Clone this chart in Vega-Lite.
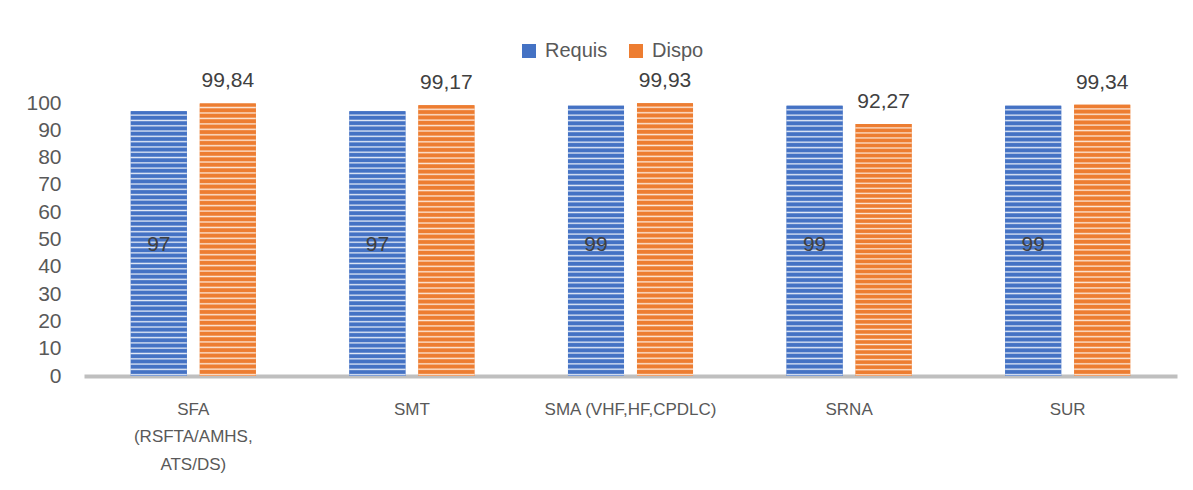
{
  "$schema": "https://vega.github.io/schema/vega-lite/v6.json",
  "width": 1093,
  "height": 273,
  "autosize": {"type": "none"},
  "padding": {"left": 84, "top": 103, "right": 16, "bottom": 114},
  "background": "white",
  "config": {
    "view": {"stroke": null},
    "font": "Liberation Sans",
    "locale": {"number": {"decimal": ",", "thousands": " ", "grouping": [3], "currency": ["", ""]}}
  },
  "data": {
    "values": [
      {"cat": "SFA|(RSFTA/AMHS,|ATS/DS)", "serie": "Requis", "val": 97},
      {"cat": "SFA|(RSFTA/AMHS,|ATS/DS)", "serie": "Dispo", "val": 99.84},
      {"cat": "SMT", "serie": "Requis", "val": 97},
      {"cat": "SMT", "serie": "Dispo", "val": 99.17},
      {"cat": "SMA (VHF,HF,CPDLC)", "serie": "Requis", "val": 99},
      {"cat": "SMA (VHF,HF,CPDLC)", "serie": "Dispo", "val": 99.93},
      {"cat": "SRNA", "serie": "Requis", "val": 99},
      {"cat": "SRNA", "serie": "Dispo", "val": 92.27},
      {"cat": "SUR", "serie": "Requis", "val": 99},
      {"cat": "SUR", "serie": "Dispo", "val": 99.34}
    ]
  },
  "encoding": {
    "x": {
      "field": "cat",
      "type": "nominal",
      "sort": null,
      "scale": {"paddingInner": 0.428, "paddingOuter": 0.214},
      "axis": {
        "title": null,
        "labelExpr": "split(datum.value, '|')",
        "labelAngle": 0,
        "labelFontSize": 17,
        "labelColor": "#595959",
        "labelLineHeight": 27.5,
        "labelPadding": 25,
        "labelBaseline": "top",
        "ticks": false,
        "domainColor": "#bfbfbf",
        "domainWidth": 4
      }
    },
    "xOffset": {"field": "serie", "type": "nominal", "sort": ["Requis", "Dispo"], "scale": {"paddingInner": 0.188}},
    "y": {
      "field": "val",
      "type": "quantitative",
      "scale": {"domain": [0, 100], "nice": false},
      "axis": {
        "title": null,
        "values": [0, 10, 20, 30, 40, 50, 60, 70, 80, 90, 100],
        "grid": false,
        "domain": false,
        "ticks": false,
        "labelFontSize": 21,
        "labelColor": "#595959",
        "labelPadding": 23
      }
    }
  },
  "layer": [
    {
      "mark": {"type": "bar"},
      "encoding": {
        "color": {
          "field": "serie",
          "type": "nominal",
          "sort": ["Requis", "Dispo"],
          "scale": {"domain": ["Requis", "Dispo"], "range": ["#4472C4", "#ED7D31"]},
          "legend": {
            "title": null,
            "orient": "none",
            "legendX": 435,
            "legendY": -62,
            "direction": "horizontal",
            "symbolType": "square",
            "symbolSize": 196,
            "symbolStrokeWidth": 0,
            "labelFontSize": 20,
            "labelColor": "#595959",
            "labelOffset": 6,
            "columnPadding": 18
          }
        }
      }
    },
    {
      "mark": {"type": "bar"},
      "encoding": {
        "color": {
          "condition": {
            "test": "datum.serie === 'Requis'",
            "value": {"gradient": "linear", "x1": 0, "y1": 0, "x2": 0, "y2": 1, "stops": [
                {"offset":0,"color":"#4472C4"},{"offset":0.01,"color":"#4472C4"},{"offset":0.015,"color":"#e2e9f6"},
                {"offset":0.02,"color":"#4472C4"},{"offset":0.03,"color":"#4472C4"},{"offset":0.035,"color":"#e2e9f6"},
                {"offset":0.04,"color":"#4472C4"},{"offset":0.05,"color":"#4472C4"},{"offset":0.055,"color":"#e2e9f6"},
                {"offset":0.06,"color":"#4472C4"},{"offset":0.07,"color":"#4472C4"},{"offset":0.075,"color":"#e2e9f6"},
                {"offset":0.08,"color":"#4472C4"},{"offset":0.09,"color":"#4472C4"},{"offset":0.095,"color":"#e2e9f6"},
                {"offset":0.1,"color":"#4472C4"},{"offset":0.11,"color":"#4472C4"},{"offset":0.115,"color":"#e2e9f6"},
                {"offset":0.12,"color":"#4472C4"},{"offset":0.13,"color":"#4472C4"},{"offset":0.135,"color":"#e2e9f6"},
                {"offset":0.14,"color":"#4472C4"},{"offset":0.15,"color":"#4472C4"},{"offset":0.155,"color":"#e2e9f6"},
                {"offset":0.16,"color":"#4472C4"},{"offset":0.17,"color":"#4472C4"},{"offset":0.175,"color":"#e2e9f6"},
                {"offset":0.18,"color":"#4472C4"},{"offset":0.19,"color":"#4472C4"},{"offset":0.195,"color":"#e2e9f6"},
                {"offset":0.2,"color":"#4472C4"},{"offset":0.21,"color":"#4472C4"},{"offset":0.215,"color":"#e2e9f6"},
                {"offset":0.22,"color":"#4472C4"},{"offset":0.23,"color":"#4472C4"},{"offset":0.235,"color":"#e2e9f6"},
                {"offset":0.24,"color":"#4472C4"},{"offset":0.25,"color":"#4472C4"},{"offset":0.255,"color":"#e2e9f6"},
                {"offset":0.26,"color":"#4472C4"},{"offset":0.27,"color":"#4472C4"},{"offset":0.275,"color":"#e2e9f6"},
                {"offset":0.28,"color":"#4472C4"},{"offset":0.29,"color":"#4472C4"},{"offset":0.295,"color":"#e2e9f6"},
                {"offset":0.3,"color":"#4472C4"},{"offset":0.31,"color":"#4472C4"},{"offset":0.315,"color":"#e2e9f6"},
                {"offset":0.32,"color":"#4472C4"},{"offset":0.33,"color":"#4472C4"},{"offset":0.335,"color":"#e2e9f6"},
                {"offset":0.34,"color":"#4472C4"},{"offset":0.35,"color":"#4472C4"},{"offset":0.355,"color":"#e2e9f6"},
                {"offset":0.36,"color":"#4472C4"},{"offset":0.37,"color":"#4472C4"},{"offset":0.375,"color":"#e2e9f6"},
                {"offset":0.38,"color":"#4472C4"},{"offset":0.39,"color":"#4472C4"},{"offset":0.395,"color":"#e2e9f6"},
                {"offset":0.4,"color":"#4472C4"},{"offset":0.41,"color":"#4472C4"},{"offset":0.415,"color":"#e2e9f6"},
                {"offset":0.42,"color":"#4472C4"},{"offset":0.43,"color":"#4472C4"},{"offset":0.435,"color":"#e2e9f6"},
                {"offset":0.44,"color":"#4472C4"},{"offset":0.45,"color":"#4472C4"},{"offset":0.455,"color":"#e2e9f6"},
                {"offset":0.46,"color":"#4472C4"},{"offset":0.47,"color":"#4472C4"},{"offset":0.475,"color":"#e2e9f6"},
                {"offset":0.48,"color":"#4472C4"},{"offset":0.49,"color":"#4472C4"},{"offset":0.495,"color":"#e2e9f6"},
                {"offset":0.5,"color":"#4472C4"},{"offset":0.51,"color":"#4472C4"},{"offset":0.515,"color":"#e2e9f6"},
                {"offset":0.52,"color":"#4472C4"},{"offset":0.53,"color":"#4472C4"},{"offset":0.535,"color":"#e2e9f6"},
                {"offset":0.54,"color":"#4472C4"},{"offset":0.55,"color":"#4472C4"},{"offset":0.555,"color":"#e2e9f6"},
                {"offset":0.56,"color":"#4472C4"},{"offset":0.57,"color":"#4472C4"},{"offset":0.575,"color":"#e2e9f6"},
                {"offset":0.58,"color":"#4472C4"},{"offset":0.59,"color":"#4472C4"},{"offset":0.595,"color":"#e2e9f6"},
                {"offset":0.6,"color":"#4472C4"},{"offset":0.61,"color":"#4472C4"},{"offset":0.615,"color":"#e2e9f6"},
                {"offset":0.62,"color":"#4472C4"},{"offset":0.63,"color":"#4472C4"},{"offset":0.635,"color":"#e2e9f6"},
                {"offset":0.64,"color":"#4472C4"},{"offset":0.65,"color":"#4472C4"},{"offset":0.655,"color":"#e2e9f6"},
                {"offset":0.66,"color":"#4472C4"},{"offset":0.67,"color":"#4472C4"},{"offset":0.675,"color":"#e2e9f6"},
                {"offset":0.68,"color":"#4472C4"},{"offset":0.69,"color":"#4472C4"},{"offset":0.695,"color":"#e2e9f6"},
                {"offset":0.7,"color":"#4472C4"},{"offset":0.71,"color":"#4472C4"},{"offset":0.715,"color":"#e2e9f6"},
                {"offset":0.72,"color":"#4472C4"},{"offset":0.73,"color":"#4472C4"},{"offset":0.735,"color":"#e2e9f6"},
                {"offset":0.74,"color":"#4472C4"},{"offset":0.75,"color":"#4472C4"},{"offset":0.755,"color":"#e2e9f6"},
                {"offset":0.76,"color":"#4472C4"},{"offset":0.77,"color":"#4472C4"},{"offset":0.775,"color":"#e2e9f6"},
                {"offset":0.78,"color":"#4472C4"},{"offset":0.79,"color":"#4472C4"},{"offset":0.795,"color":"#e2e9f6"},
                {"offset":0.8,"color":"#4472C4"},{"offset":0.81,"color":"#4472C4"},{"offset":0.815,"color":"#e2e9f6"},
                {"offset":0.82,"color":"#4472C4"},{"offset":0.83,"color":"#4472C4"},{"offset":0.835,"color":"#e2e9f6"},
                {"offset":0.84,"color":"#4472C4"},{"offset":0.85,"color":"#4472C4"},{"offset":0.855,"color":"#e2e9f6"},
                {"offset":0.86,"color":"#4472C4"},{"offset":0.87,"color":"#4472C4"},{"offset":0.875,"color":"#e2e9f6"},
                {"offset":0.88,"color":"#4472C4"},{"offset":0.89,"color":"#4472C4"},{"offset":0.895,"color":"#e2e9f6"},
                {"offset":0.9,"color":"#4472C4"},{"offset":0.91,"color":"#4472C4"},{"offset":0.915,"color":"#e2e9f6"},
                {"offset":0.92,"color":"#4472C4"},{"offset":0.93,"color":"#4472C4"},{"offset":0.935,"color":"#e2e9f6"},
                {"offset":0.94,"color":"#4472C4"},{"offset":0.95,"color":"#4472C4"},{"offset":0.955,"color":"#e2e9f6"},
                {"offset":0.96,"color":"#4472C4"},{"offset":0.97,"color":"#4472C4"},{"offset":0.975,"color":"#e2e9f6"},
                {"offset":0.98,"color":"#4472C4"},{"offset":0.99,"color":"#4472C4"},{"offset":0.995,"color":"#e2e9f6"},
                {"offset":1,"color":"#4472C4"}
              ]}
          },
          "value": {"gradient": "linear", "x1": 0, "y1": 0, "x2": 0, "y2": 1, "stops": [
                {"offset":0,"color":"#ED7D31"},{"offset":0.01,"color":"#ED7D31"},{"offset":0.015,"color":"#fce6d6"},
                {"offset":0.02,"color":"#ED7D31"},{"offset":0.03,"color":"#ED7D31"},{"offset":0.035,"color":"#fce6d6"},
                {"offset":0.04,"color":"#ED7D31"},{"offset":0.05,"color":"#ED7D31"},{"offset":0.055,"color":"#fce6d6"},
                {"offset":0.06,"color":"#ED7D31"},{"offset":0.07,"color":"#ED7D31"},{"offset":0.075,"color":"#fce6d6"},
                {"offset":0.08,"color":"#ED7D31"},{"offset":0.09,"color":"#ED7D31"},{"offset":0.095,"color":"#fce6d6"},
                {"offset":0.1,"color":"#ED7D31"},{"offset":0.11,"color":"#ED7D31"},{"offset":0.115,"color":"#fce6d6"},
                {"offset":0.12,"color":"#ED7D31"},{"offset":0.13,"color":"#ED7D31"},{"offset":0.135,"color":"#fce6d6"},
                {"offset":0.14,"color":"#ED7D31"},{"offset":0.15,"color":"#ED7D31"},{"offset":0.155,"color":"#fce6d6"},
                {"offset":0.16,"color":"#ED7D31"},{"offset":0.17,"color":"#ED7D31"},{"offset":0.175,"color":"#fce6d6"},
                {"offset":0.18,"color":"#ED7D31"},{"offset":0.19,"color":"#ED7D31"},{"offset":0.195,"color":"#fce6d6"},
                {"offset":0.2,"color":"#ED7D31"},{"offset":0.21,"color":"#ED7D31"},{"offset":0.215,"color":"#fce6d6"},
                {"offset":0.22,"color":"#ED7D31"},{"offset":0.23,"color":"#ED7D31"},{"offset":0.235,"color":"#fce6d6"},
                {"offset":0.24,"color":"#ED7D31"},{"offset":0.25,"color":"#ED7D31"},{"offset":0.255,"color":"#fce6d6"},
                {"offset":0.26,"color":"#ED7D31"},{"offset":0.27,"color":"#ED7D31"},{"offset":0.275,"color":"#fce6d6"},
                {"offset":0.28,"color":"#ED7D31"},{"offset":0.29,"color":"#ED7D31"},{"offset":0.295,"color":"#fce6d6"},
                {"offset":0.3,"color":"#ED7D31"},{"offset":0.31,"color":"#ED7D31"},{"offset":0.315,"color":"#fce6d6"},
                {"offset":0.32,"color":"#ED7D31"},{"offset":0.33,"color":"#ED7D31"},{"offset":0.335,"color":"#fce6d6"},
                {"offset":0.34,"color":"#ED7D31"},{"offset":0.35,"color":"#ED7D31"},{"offset":0.355,"color":"#fce6d6"},
                {"offset":0.36,"color":"#ED7D31"},{"offset":0.37,"color":"#ED7D31"},{"offset":0.375,"color":"#fce6d6"},
                {"offset":0.38,"color":"#ED7D31"},{"offset":0.39,"color":"#ED7D31"},{"offset":0.395,"color":"#fce6d6"},
                {"offset":0.4,"color":"#ED7D31"},{"offset":0.41,"color":"#ED7D31"},{"offset":0.415,"color":"#fce6d6"},
                {"offset":0.42,"color":"#ED7D31"},{"offset":0.43,"color":"#ED7D31"},{"offset":0.435,"color":"#fce6d6"},
                {"offset":0.44,"color":"#ED7D31"},{"offset":0.45,"color":"#ED7D31"},{"offset":0.455,"color":"#fce6d6"},
                {"offset":0.46,"color":"#ED7D31"},{"offset":0.47,"color":"#ED7D31"},{"offset":0.475,"color":"#fce6d6"},
                {"offset":0.48,"color":"#ED7D31"},{"offset":0.49,"color":"#ED7D31"},{"offset":0.495,"color":"#fce6d6"},
                {"offset":0.5,"color":"#ED7D31"},{"offset":0.51,"color":"#ED7D31"},{"offset":0.515,"color":"#fce6d6"},
                {"offset":0.52,"color":"#ED7D31"},{"offset":0.53,"color":"#ED7D31"},{"offset":0.535,"color":"#fce6d6"},
                {"offset":0.54,"color":"#ED7D31"},{"offset":0.55,"color":"#ED7D31"},{"offset":0.555,"color":"#fce6d6"},
                {"offset":0.56,"color":"#ED7D31"},{"offset":0.57,"color":"#ED7D31"},{"offset":0.575,"color":"#fce6d6"},
                {"offset":0.58,"color":"#ED7D31"},{"offset":0.59,"color":"#ED7D31"},{"offset":0.595,"color":"#fce6d6"},
                {"offset":0.6,"color":"#ED7D31"},{"offset":0.61,"color":"#ED7D31"},{"offset":0.615,"color":"#fce6d6"},
                {"offset":0.62,"color":"#ED7D31"},{"offset":0.63,"color":"#ED7D31"},{"offset":0.635,"color":"#fce6d6"},
                {"offset":0.64,"color":"#ED7D31"},{"offset":0.65,"color":"#ED7D31"},{"offset":0.655,"color":"#fce6d6"},
                {"offset":0.66,"color":"#ED7D31"},{"offset":0.67,"color":"#ED7D31"},{"offset":0.675,"color":"#fce6d6"},
                {"offset":0.68,"color":"#ED7D31"},{"offset":0.69,"color":"#ED7D31"},{"offset":0.695,"color":"#fce6d6"},
                {"offset":0.7,"color":"#ED7D31"},{"offset":0.71,"color":"#ED7D31"},{"offset":0.715,"color":"#fce6d6"},
                {"offset":0.72,"color":"#ED7D31"},{"offset":0.73,"color":"#ED7D31"},{"offset":0.735,"color":"#fce6d6"},
                {"offset":0.74,"color":"#ED7D31"},{"offset":0.75,"color":"#ED7D31"},{"offset":0.755,"color":"#fce6d6"},
                {"offset":0.76,"color":"#ED7D31"},{"offset":0.77,"color":"#ED7D31"},{"offset":0.775,"color":"#fce6d6"},
                {"offset":0.78,"color":"#ED7D31"},{"offset":0.79,"color":"#ED7D31"},{"offset":0.795,"color":"#fce6d6"},
                {"offset":0.8,"color":"#ED7D31"},{"offset":0.81,"color":"#ED7D31"},{"offset":0.815,"color":"#fce6d6"},
                {"offset":0.82,"color":"#ED7D31"},{"offset":0.83,"color":"#ED7D31"},{"offset":0.835,"color":"#fce6d6"},
                {"offset":0.84,"color":"#ED7D31"},{"offset":0.85,"color":"#ED7D31"},{"offset":0.855,"color":"#fce6d6"},
                {"offset":0.86,"color":"#ED7D31"},{"offset":0.87,"color":"#ED7D31"},{"offset":0.875,"color":"#fce6d6"},
                {"offset":0.88,"color":"#ED7D31"},{"offset":0.89,"color":"#ED7D31"},{"offset":0.895,"color":"#fce6d6"},
                {"offset":0.9,"color":"#ED7D31"},{"offset":0.91,"color":"#ED7D31"},{"offset":0.915,"color":"#fce6d6"},
                {"offset":0.92,"color":"#ED7D31"},{"offset":0.93,"color":"#ED7D31"},{"offset":0.935,"color":"#fce6d6"},
                {"offset":0.94,"color":"#ED7D31"},{"offset":0.95,"color":"#ED7D31"},{"offset":0.955,"color":"#fce6d6"},
                {"offset":0.96,"color":"#ED7D31"},{"offset":0.97,"color":"#ED7D31"},{"offset":0.975,"color":"#fce6d6"},
                {"offset":0.98,"color":"#ED7D31"},{"offset":0.99,"color":"#ED7D31"},{"offset":0.995,"color":"#fce6d6"},
                {"offset":1,"color":"#ED7D31"}
              ]}
        }
      }
    },
    {
      "transform": [{"filter": "datum.serie === 'Requis'"}],
      "mark": {"type": "text", "fontSize": 21, "color": "#404040", "baseline": "middle"},
      "encoding": {
        "y": {"datum": 48},
        "text": {"field": "val", "type": "quantitative", "format": "d"}
      }
    },
    {
      "transform": [{"filter": "datum.serie === 'Dispo'"}],
      "mark": {"type": "text", "fontSize": 21, "color": "#404040", "baseline": "alphabetic", "dy": -16},
      "encoding": {
        "text": {"field": "val", "type": "quantitative", "format": ".2f"}
      }
    }
  ]
}
